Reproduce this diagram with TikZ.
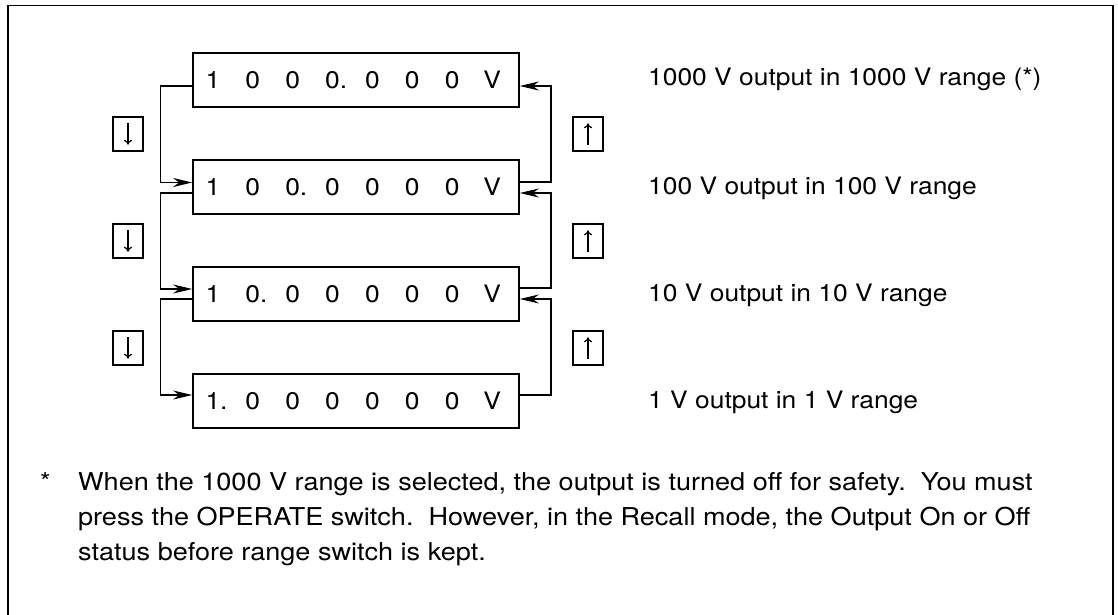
\documentclass[tikz,border=0pt]{standalone}
\usepackage{fontspec}
\setmainfont{TeX Gyre Heros}[FakeStretch=1.1]
\usetikzlibrary{arrows.meta}
\newcommand{\cell}[1]{\makebox[39.9pt][c]{#1}}
\newcommand{\dispval}[8]{\cell{#1}\cell{#2}\cell{#3}\cell{#4}\cell{#5}\cell{#6}\cell{#7}\cell{#8}\kern7pt}
\begin{document}
\begin{tikzpicture}[x=1pt,y=-1pt,
  every node/.style={font=\fontsize{24}{29}\selectfont},
  disp/.style={draw,line width=1.5pt,minimum width=322pt,minimum height=54pt,inner sep=0pt},
  keybox/.style={draw,line width=1.5pt,minimum width=30pt,minimum height=34pt,inner sep=0pt},
  keyarrow/.style={line width=1.2pt,-{To[length=5pt,width=8pt]}},
  lbl/.style={anchor=base west,inner sep=0pt},
  foot/.style={lbl,font=\fontsize{24.6}{29}\selectfont},
  conn/.style={line width=1.3pt,-{Stealth[length=19pt,width=9pt,inset=6pt]}}
]
\useasboundingbox (0,0) rectangle (1118,615);
\draw[line width=1.5pt] (8,616) -- (8,5.5) -- (1113,5.5) -- (1113,616);

\node[disp] (b1) at (356,80) {\dispval{1}{0}{0}{0\rlap{.}}{0}{0}{0}{V}};
\node[disp] (b2) at (356,187) {\dispval{1}{0}{0\rlap{.}}{0}{0}{0}{0}{V}};
\node[disp] (b3) at (356,294) {\dispval{1}{0\rlap{.}}{0}{0}{0}{0}{0}{V}};
\node[disp] (b4) at (356,401) {\dispval{1\rlap{.}}{0}{0}{0}{0}{0}{0}{V}};

% left (down) connectors
\draw[conn] ([yshift=-6pt]b1.west) -- ++(-32,0) |- ([yshift=4.5pt]b2.west);
\draw[conn] ([yshift=-6pt]b2.west) -- ++(-32,0) |- ([yshift=5pt]b3.west);
\draw[conn] ([yshift=-5pt]b3.west) -- ++(-32,0) |- ([yshift=6pt]b4.west);
% right (up) connectors
\draw[conn] ([yshift=6pt]b4.east) -- ++(31,0) |- ([yshift=-5pt]b3.east);
\draw[conn] ([yshift=6pt]b3.east) -- ++(31,0) |- ([yshift=-6pt]b2.east);
\draw[conn] ([yshift=5pt]b2.east) -- ++(31,0) |- ([yshift=-6pt]b1.east);

\foreach \n/\y in {1/134,2/241,3/348}{
  \node[keybox] (d\n) at (128,\y) {};
  \draw[keyarrow] ([yshift=-7pt]d\n.north) -- ([yshift=7pt]d\n.south);
  \node[keybox] (u\n) at (588,\y) {};
  \draw[keyarrow] ([yshift=7pt]u\n.south) -- ([yshift=-7pt]u\n.north);
}

\node[lbl] (l1) at (648,86) {1000 V output in 1000 V range (*)};
\node[lbl] (l2) at (648,194) {100 V output in 100 V range};
\node[lbl] (l3) at (648,301) {10 V output in 10 V range};
\node[lbl] (l4) at (648,408) {1 V output in 1 V range};

\node[foot] (f0) at (40,490) {*};
\node[foot] (f1) at (78,490) {When the 1000 V range is selected, the output is turned off for safety.\ \ You must};
\node[foot] (f2) at (78,525) {press the OPERATE switch.\ \ However, in the Recall mode, the Output On or Off};
\node[foot] (f3) at (78,560) {status before range switch is kept.};
\end{tikzpicture}
\end{document}
